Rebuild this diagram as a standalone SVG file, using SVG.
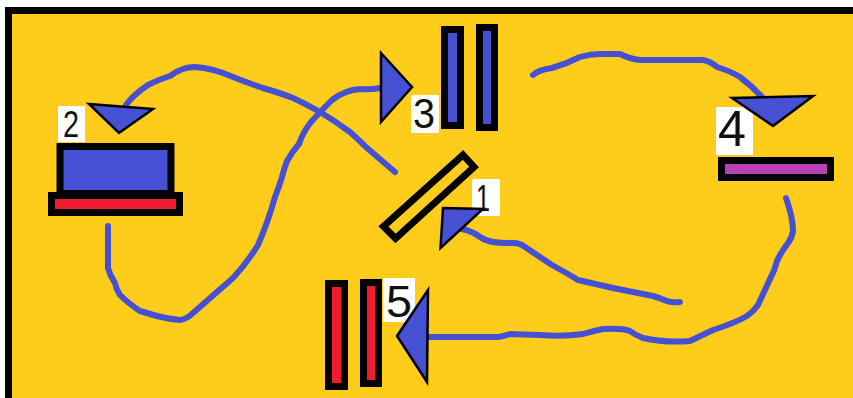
<svg xmlns="http://www.w3.org/2000/svg" width="853" height="398" viewBox="0 0 853 398">
<style>
.k{stroke:#000;stroke-width:7}
.tri{fill:#4650d2;stroke:#000;stroke-width:2.500;stroke-linejoin:miter}
.w{fill:none;stroke:#4650d2;stroke-width:6;stroke-linecap:round;stroke-linejoin:round}
.lab{fill:#fff}
text{font-family:"Liberation Sans",Arial,sans-serif;fill:#111}
</style>
<rect width="853" height="398" fill="#fff"/>
<path d="M5 398V7H853V398Z" fill="#000"/>
<rect x="12" y="14" width="841" height="384" fill="#fecc1b"/>
<g id="connectors">
<path class="w" d="M126 105Q133 95 148 85Q160 79 170 76Q182 67 195 67Q213 68 233 77Q248 83 263 88Q280 93 293 98Q306 104 320 112Q335 121 350 132Q359 140 367 148L395 172"/>
<path class="w" d="M380 88Q370 90 360 89Q345 90 332 100Q320 112 311 122Q303 132 299 144Q292 152 287 161Q284 169 282 177Q279 187 275 197Q268 222 258 245Q247 263 233 278L193 313Q187 319 180 320Q168 319 157 316L140 311Q128 303 120 295Q116 289 115 283Q110 276 108 268L108 226"/>
<path class="w" d="M533 75Q538 70 552 68Q566 64 580 57Q590 54 600 54L620 54Q630 59 640 60L703 60Q710 61 717 67Q730 71 740 77Q752 86 763 98"/>
<path class="w" d="M786 198Q793 218 793 231Q792 238 788 243Q780 254 777 261Q775 270 770 279Q764 292 758 305Q753 312 747 316Q735 323 713 330L690 341Q665 343 643 338Q635 335 630 331Q622 328 603 329Q593 331 583 334Q563 337 540 335L510 334Q500 337 495 337L428 337"/>
<path class="w" d="M680 302Q672 303 667 301Q660 298 653 296L613 288L578 280Q570 275 552 265L525 247Q520 243 514 243Q500 243 493 242Q486 241 480 237Q472 231 462 229"/>
</g>
<g id="node-1">
<polygon points="463,155 474,167 395.500,238.500 383.500,226.500" fill="#fecc1b" class="k"/>
<rect x="472" y="179" width="28" height="37" class="lab"/>
<text x="476" y="211" font-size="36" textLength="14" lengthAdjust="spacingAndGlyphs">1</text>
<polygon class="tri" points="443,208 483,209 440.500,248"/>
</g>
<g id="node-2">
<rect x="58" y="106" width="27" height="36" class="lab"/>
<text x="63" y="137" font-size="36" textLength="16" lengthAdjust="spacingAndGlyphs">2</text>
<polygon class="tri" points="89,104 153,109 119,133"/>
<rect x="60" y="146.500" width="111" height="47" fill="#4650d2" class="k"/>
<rect x="51.500" y="195.500" width="128" height="17" fill="#ee1c2c" class="k"/>
</g>
<g id="node-3">
<rect x="411" y="95" width="28" height="38" class="lab"/>
<text x="413" y="128" font-size="42" textLength="22" lengthAdjust="spacingAndGlyphs">3</text>
<polygon class="tri" points="381,53 412,87 381,122"/>
<rect x="444.500" y="29.500" width="16" height="96" fill="#4650d2" class="k"/>
<rect x="479.500" y="27.500" width="15" height="100" fill="#4650d2" class="k"/>
</g>
<g id="node-4">
<rect x="716" y="107" width="37" height="48" class="lab"/>
<text x="718" y="146" font-size="50" textLength="28" lengthAdjust="spacingAndGlyphs">4</text>
<polygon class="tri" points="732,98 813,96 773,126"/>
<rect x="721.500" y="160.500" width="109" height="17" fill="#b83fb4" class="k"/>
</g>
<g id="node-5">
<rect x="328.500" y="283.500" width="16" height="103" fill="#ee1c2c" class="k"/>
<rect x="363.500" y="282.500" width="15" height="101" fill="#ee1c2c" class="k"/>
<rect x="383" y="278" width="32" height="44" class="lab"/>
<text x="386" y="317" font-size="45" textLength="26" lengthAdjust="spacingAndGlyphs">5</text>
<polygon class="tri" points="397,336 428,290 427,382"/>
</g>
</svg>
